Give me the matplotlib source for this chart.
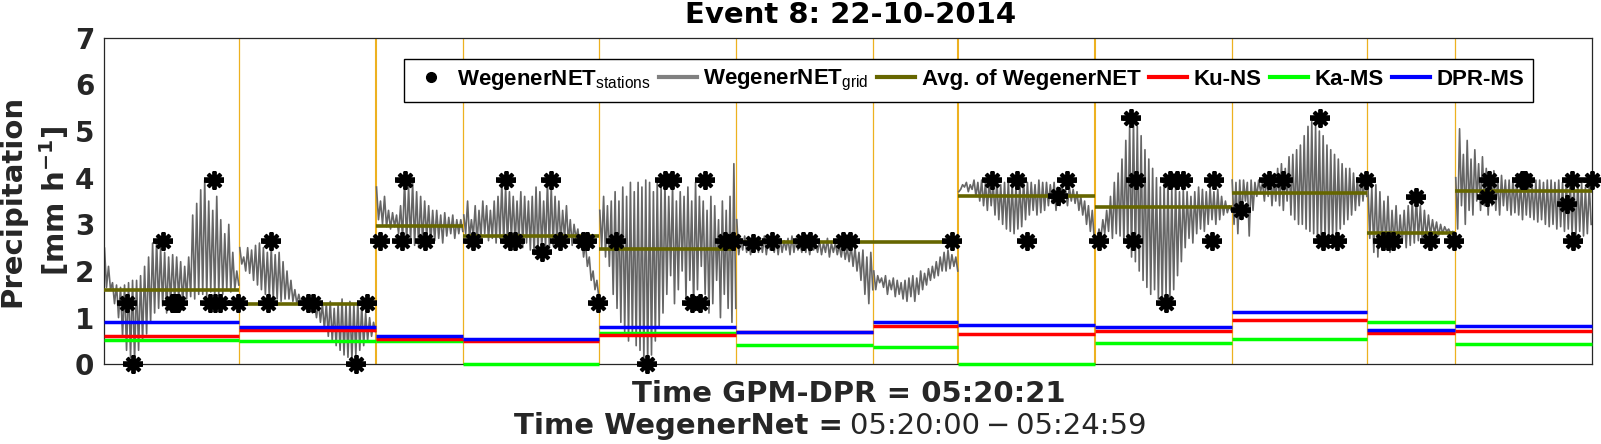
import matplotlib
matplotlib.use("Agg")
import matplotlib.pyplot as plt
from matplotlib.lines import Line2D
import numpy as np

# footprint edges along the (unlabelled) x axis
seg_edges = [0, 135.3, 272, 359.3, 495.3, 632.3, 769.3, 854.3, 990.7, 1127.7, 1263.3, 1351.3, 1487.7]

# per-footprint means [mm/h]
avg_wnet = [1.60, 1.30, 2.97, 2.74, 2.48, 2.63, 2.63, 3.61, 3.38, 3.68, 2.82, 3.72]
ku_ns = [0.61, 0.74, 0.55, 0.51, 0.63, 0.69, 0.83, 0.64, 0.72, 0.94, 0.67, 0.72]
ka_ms = [0.53, 0.49, 0.49, 0.00, 0.68, 0.41, 0.37, 0.00, 0.46, 0.55, 0.91, 0.44]
dpr_ms = [0.91, 0.79, 0.61, 0.55, 0.81, 0.70, 0.91, 0.85, 0.80, 1.13, 0.74, 0.83]

# WegenerNET grid values, peaks / troughs per footprint
grid_s1_hi = [2.49, 2.1, 1.75, 1.7, 1.65, 1.7, 1.75, 1.8, 1.8, 1.9, 2.1, 2.3, 2.6, 2.67, 2.5, 2.4, 2.3,
              2.35, 2.3, 2.2, 2.1, 2.3, 3.2, 3.45, 3.74, 3.95, 3.5, 3.3, 3.6, 3.1, 2.8, 3.0, 2.4, 2.0]
grid_s1_lo = [1.65, 1.6, 1.3, 1.0, 0.6, 0.3, 0.15, 0.08, 0.3, 0.5, 0.65, 0.9, 1.1, 1.2, 1.25, 1.1, 1.3,
              1.35, 1.4, 1.3, 1.4, 1.45, 1.4, 1.5, 1.5, 1.45, 1.55, 1.4, 1.5, 1.5, 1.6, 1.55, 1.6, 1.7]
grid_s2_hi = [2.5, 2.3, 2.5, 2.45, 2.55, 2.6, 2.5, 2.4, 2.5, 2.35, 2.4, 2.2, 2.0, 1.8, 1.6, 1.5, 1.45, 1.35,
              1.4, 1.3, 1.35, 1.3, 1.3, 1.35, 1.2, 1.3, 1.4, 1.3, 1.35, 1.3, 1.35, 1.25, 1.1, 1.0, 0.9]
grid_s2_lo = [2.15, 2.0, 1.95, 1.8, 1.7, 1.6, 1.5, 1.45, 1.4, 1.4, 1.35, 1.4, 1.4, 1.35, 1.3, 1.3, 1.2, 1.15,
              1.1, 1.0, 0.9, 0.75, 0.6, 0.5, 0.4, 0.3, 0.2, 0.15, 0.1, 0.2, 0.3, 0.4, 0.5, 0.6, 0.7]
grid_s3_hi = [3.8, 3.5, 3.6, 3.3, 3.25, 3.2, 3.4, 3.95, 3.8, 3.9, 3.7, 3.6, 3.5, 3.4, 3.3, 3.3, 3.2, 3.25,
              3.15, 3.2, 3.1, 3.1]
grid_s3_lo = [3.1, 3.0, 2.95, 2.9, 2.95, 2.8, 2.7, 2.6, 2.65, 2.55, 2.5, 2.6, 2.7, 2.6, 2.65, 2.7, 2.6, 2.75,
              2.8, 2.7, 2.8, 2.85]
grid_s4_hi = [3.2, 3.5, 3.1, 3.4, 3.3, 3.5, 3.4, 3.3, 3.5, 3.6, 3.9, 3.8, 3.7, 3.6, 3.5, 3.7, 3.6, 3.5,
              3.6, 3.8, 3.7, 3.5, 3.9, 3.8, 3.6, 3.5, 3.3, 3.4, 3.1, 3.0, 2.9, 2.8, 2.6, 2.3, 2.0, 1.8]
grid_s4_lo = [2.8, 2.7, 2.75, 2.6, 2.7, 2.8, 2.65, 2.7, 2.6, 2.7, 2.6, 2.55, 2.7, 2.6, 2.65, 2.5, 2.6, 2.45,
              2.35, 2.4, 2.45, 2.5, 2.5, 2.55, 2.6, 2.6, 2.7, 2.6, 2.55, 2.7, 2.5, 2.3, 2.1, 1.8, 1.6, 1.45]
grid_s5_hi = [3.3, 3.6, 3.4, 3.5, 3.7, 3.5, 3.8, 3.6, 3.9, 3.7, 3.9, 3.8, 3.95, 3.9, 3.7, 3.95, 3.8, 3.9,
              3.6, 3.85, 3.5, 3.7, 3.6, 3.8, 3.5, 3.9, 3.6, 3.5, 3.3, 3.6, 3.4, 3.1, 3.5, 3.3, 3.6, 4.3]
grid_s5_lo = [2.5, 2.3, 2.1, 1.5, 1.2, 0.9, 0.7, 0.5, 0.6, 0.4, 0.3, 0.1, 0.0, 0.2, 0.5, 0.8, 1.1, 1.5,
              1.9, 1.3, 1.6, 2.0, 1.4, 1.8, 1.2, 1.6, 2.1, 1.5, 1.1, 1.3, 1.8, 1.0, 1.5, 1.2, 0.9, 1.2]
grid_s6_hi = [3.1, 2.7, 2.75, 2.7, 2.65, 2.7, 2.7, 2.75, 2.7, 2.6, 2.7, 2.7, 2.65, 2.7, 2.75, 2.7, 2.6, 2.7,
              2.65, 2.7, 2.6, 2.65, 2.6, 2.7, 2.6, 2.6, 2.55, 2.6, 2.5, 2.55, 2.5, 2.4, 2.45, 2.3, 2.4]
grid_s6_lo = [2.35, 2.45, 2.4, 2.35, 2.45, 2.4, 2.4, 2.35, 2.45, 2.4, 2.35, 2.4, 2.45, 2.35, 2.4, 2.45, 2.4,
              2.4, 2.35, 2.45, 2.4, 2.35, 2.4, 2.3, 2.4, 2.35, 2.3, 2.25, 2.2, 2.1, 2.0, 1.8, 1.5, 1.3, 1.6]
grid_s7_hi = [2.0, 1.9, 1.85, 1.9, 1.8, 1.85, 1.8, 1.75, 1.8, 1.85, 1.9, 1.85, 2.0, 1.95, 2.05, 2.1, 2.2,
              2.3, 2.4, 2.45, 2.35, 2.3]
grid_s7_lo = [1.6, 1.75, 1.65, 1.5, 1.6, 1.45, 1.5, 1.4, 1.35, 1.45, 1.35, 1.5, 1.6, 1.7, 1.8, 1.85, 1.9,
              2.0, 2.0, 2.05, 2.1, 2.0]
grid_s8_hi = [3.7, 3.85, 3.9, 3.85, 3.95, 3.9, 3.95, 3.9, 3.95, 3.9, 3.95, 3.85, 3.9, 3.95, 3.9, 3.85, 3.9,
              3.95, 3.9, 3.9, 3.85, 3.95, 3.9, 3.9, 3.85, 3.9, 3.8, 3.85, 3.75, 3.8, 3.75, 3.7, 3.6, 3.5,
              3.4, 3.3]
grid_s8_lo = [3.75, 3.8, 3.7, 3.75, 3.6, 3.5, 3.4, 3.3, 3.4, 3.2, 3.1, 3.0, 2.9, 2.85, 2.8, 2.9, 2.95, 3.1,
              3.2, 3.3, 3.2, 3.25, 3.3, 3.4, 3.45, 3.3, 3.4, 3.5, 3.4, 3.5, 3.45, 3.3, 3.2, 3.0, 2.85, 2.7]
grid_s9_hi = [2.7, 2.9, 3.1, 3.3, 3.6, 3.9, 4.1, 4.4, 4.8, 5.1, 5.25, 5.1, 4.9, 4.6, 4.4, 4.2, 4.0, 3.8,
              3.9, 4.0, 3.8, 3.9, 3.7, 3.75, 3.7, 3.6, 3.7, 3.8, 3.75, 3.7, 3.8, 3.7, 3.75, 3.6, 3.5, 3.4]
grid_s9_lo = [2.6, 2.7, 2.8, 2.85, 2.7, 2.8, 2.75, 2.6, 2.5, 2.3, 2.2, 2.0, 1.8, 1.65, 1.5, 1.6, 1.4, 1.3,
              1.5, 1.35, 1.6, 1.9, 2.2, 2.5, 2.7, 2.6, 2.8, 2.9, 2.85, 3.0, 3.1, 3.0, 3.1, 3.2, 3.25, 3.3]
grid_s10_hi = [3.95, 3.9, 3.95, 3.95, 3.9, 3.95, 3.9, 3.95, 3.9, 4.0, 4.1, 4.0, 4.2, 4.3, 4.2, 4.45, 4.5,
               4.6, 4.7, 4.9, 5.1, 5.2, 5.1, 5.0, 4.9, 4.7, 4.6, 4.5, 4.4, 4.3, 4.2, 4.2, 4.1, 4.0, 4.1, 4.0]
grid_s10_lo = [3.0, 2.8, 3.1, 3.5, 2.75, 3.3, 3.6, 3.7, 3.5, 3.6, 3.4, 3.5, 3.4, 3.3, 3.5, 3.2, 3.1, 3.0,
               3.0, 2.9, 2.85, 2.8, 2.7, 2.6, 2.65, 2.6, 2.7, 2.8, 2.9, 3.0, 3.1, 3.2, 3.3, 3.4, 3.5, 3.6]
grid_s11_hi = [3.95, 3.8, 3.85, 3.7, 3.5, 3.6, 3.3, 3.4, 3.2, 3.3, 3.4, 3.5, 3.6, 3.4, 3.3, 3.2, 3.1, 3.05,
               3.0, 2.95, 2.9, 2.85]
grid_s11_lo = [2.7, 2.4, 2.3, 2.45, 2.5, 2.4, 2.55, 2.5, 2.6, 2.5, 2.55, 2.6, 2.65, 2.6, 2.7, 2.75, 2.8,
               2.75, 2.8, 2.85, 2.8, 2.8]
grid_s12_hi = [4.0, 5.05, 4.5, 4.8, 4.4, 4.6, 4.3, 4.45, 4.2, 4.1, 4.15, 4.0, 4.05, 3.95, 3.95, 4.0, 3.95,
               3.9, 3.95, 3.95, 3.9, 3.95, 3.95, 3.9, 3.95, 3.95, 3.9, 3.95, 3.9, 3.95, 3.95, 3.85, 3.95,
               3.9, 3.8, 3.85]
grid_s12_lo = [2.9, 3.4, 3.0, 3.3, 3.2, 3.5, 3.3, 3.4, 3.2, 3.4, 3.3, 3.2, 3.4, 3.3, 3.2, 3.25, 3.2, 3.1,
               3.2, 3.15, 3.1, 3.05, 3.1, 3.0, 2.95, 3.0, 2.9, 2.95, 2.85, 2.9, 2.8, 2.75, 2.85, 2.75, 2.8, 3.0]

# station positions and values
stn_x = [22.7, 29.3, 58.7, 67.7, 71.0, 74.3, 106.0, 111.0, 116.0, 110.3, 134.3,
         164.3, 166.7, 204.3, 209.3, 252.0, 262.7,
         276.0, 297.7, 301.0, 321.0,
         368.7, 402.0, 406.0, 411.0, 437.7, 446.7, 456.0, 479.3, 482.7, 493.7,
         512.0, 543.3, 561.0, 567.7, 601.0, 587.7, 596.0, 621.0, 629.0,
         649.3, 668.3, 699.3, 706.0, 739.3, 746.0,
         847.7,
         887.7, 912.7, 922.7, 954.3, 963.3,
         995.3, 1027.0, 1028.7, 1031.7, 1062.0, 1066.0, 1072.7, 1079.3, 1107.7, 1110.0,
         1137.3, 1165.3, 1179.3, 1216.0, 1219.3, 1232.7, 1262.0,
         1279.3, 1284.3, 1289.3, 1311.7, 1326.0, 1350.3,
         1385.3, 1383.3, 1417.7, 1421.0, 1467.7, 1463.3, 1469.3, 1487.7]
stn_v = [1.32, 0, 2.64, 1.32, 1.32, 1.32, 1.32, 1.32, 1.32, 3.96, 1.32,
         1.32, 2.64, 1.32, 1.32, 0, 1.32,
         2.64, 2.64, 3.96, 2.64,
         2.64, 3.96, 2.64, 2.64, 2.4, 3.96, 2.64, 2.64, 2.64, 1.32,
         2.64, 0, 3.96, 3.96, 3.96, 1.32, 1.32, 2.64, 2.64,
         2.6, 2.64, 2.64, 2.64, 2.64, 2.64,
         2.64,
         3.96, 3.96, 2.64, 3.6, 3.96,
         2.64, 5.28, 2.64, 3.96, 1.32, 3.96, 3.96, 3.96, 2.64, 3.96,
         3.3, 3.96, 3.96, 5.28, 2.64, 2.64, 3.96,
         2.64, 2.64, 2.64, 3.59, 2.64, 2.64,
         3.96, 3.59, 3.96, 3.96, 3.96, 3.43, 2.64, 3.96]

grid_hi = [grid_s1_hi, grid_s2_hi, grid_s3_hi, grid_s4_hi, grid_s5_hi, grid_s6_hi,
           grid_s7_hi, grid_s8_hi, grid_s9_hi, grid_s10_hi, grid_s11_hi, grid_s12_hi]
grid_lo = [grid_s1_lo, grid_s2_lo, grid_s3_lo, grid_s4_lo, grid_s5_lo, grid_s6_lo,
           grid_s7_lo, grid_s8_lo, grid_s9_lo, grid_s10_lo, grid_s11_lo, grid_s12_lo]

plt.rcParams["font.family"] = "DejaVu Sans"
plt.rcParams["mathtext.fontset"] = "custom"
plt.rcParams["mathtext.rm"] = "Liberation Sans"
plt.rcParams["mathtext.it"] = "Liberation Sans:italic"
plt.rcParams["mathtext.bf"] = "Liberation Sans:bold"

ORANGE = "#EDB120"
GREY = "#666666"
OLIVE = "#666600"
TXT = "#262626"

W, H = 1601, 444
fig = plt.figure(figsize=(W / 100, H / 100), dpi=100)
ax = fig.add_axes([0.06496, 0.1795, 0.9292, 0.7354])

# footprint borders
thick = {2, 7, 8}
for i, e in enumerate(seg_edges[1:-1], start=1):
    ax.axvline(e, color=ORANGE, lw=1.5 if i in thick else 0.9, zorder=1)

for k in range(len(avg_wnet)):
    x0, x1 = seg_edges[k], seg_edges[k + 1]
    hi, lo = grid_hi[k], grid_lo[k]
    ys = np.ravel(np.column_stack([hi, lo]))
    xs = np.linspace(x0 + 0.5, x1 - 0.5, len(ys))
    ax.plot(xs, ys, color=GREY, lw=1.2, zorder=2)
    ax.plot([x0, x1], [avg_wnet[k]] * 2, color=OLIVE, lw=2.6, solid_capstyle="butt", zorder=3)
    ax.plot([x0, x1], [ka_ms[k]] * 2, color="#00FF00", lw=2.5, solid_capstyle="butt", zorder=3, clip_on=False)
    ax.plot([x0, x1], [ku_ns[k]] * 2, color="#FF0000", lw=2.5, solid_capstyle="butt", zorder=4, clip_on=False)
    ax.plot([x0, x1], [dpr_ms[k]] * 2, color="#0000FF", lw=2.5, solid_capstyle="butt", zorder=5, clip_on=False)

# stations (asterisk-like blobs)
ax.plot(stn_x, stn_v, ls="none", marker=(8, 2, 0), ms=13, mew=2.8, color="black", zorder=6, clip_on=False)
ax.plot(stn_x, stn_v, ls="none", marker="_", ms=15, mew=4, color="black", zorder=6, clip_on=False)
ax.plot(stn_x, stn_v, ls="none", marker="o", ms=7, color="black", zorder=6, clip_on=False)

ax.set_xlim(seg_edges[0], seg_edges[-1])
ax.set_ylim(0, 7)
ax.set_xticks([])
ax.set_yticks(range(8))
ax.tick_params(axis="y", length=0, pad=7, labelsize=20)
for t in ax.get_yticklabels():
    t.set_fontweight("bold")
    t.set_color(TXT)
for s in ax.spines.values():
    s.set_color(TXT)
    s.set_linewidth(0.9)

handles = [
    Line2D([], [], ls="none", marker="o", ms=7, color="black"),
    Line2D([], [], color="#808080", lw=3),
    Line2D([], [], color=OLIVE, lw=3),
    Line2D([], [], color="#FF0000", lw=3),
    Line2D([], [], color="#00FF00", lw=3),
    Line2D([], [], color="#0000FF", lw=3),
]
labels = [r"WegenerNET$_{\mathrm{stations}}$", r"WegenerNET$_{\mathrm{grid}}$", "Avg. of WegenerNET",
          "Ku-NS", "Ka-MS", "DPR-MS"]
leg = ax.legend(handles, labels, loc="upper left", bbox_to_anchor=(0.2015, 0.934), ncol=6,
                prop={"family": "Liberation Sans", "weight": "bold", "size": 16},
                frameon=True, fancybox=False, edgecolor="black", framealpha=1,
                handlelength=1.7, handletextpad=0.3, columnspacing=0.38,
                borderpad=0.38, borderaxespad=0)
leg.get_frame().set_linewidth(1.0)
leg.set_zorder(10)

fig.text(35 / W, 0.5 * (0.1795 + 0.9149), "Precipitation\n" + r"[mm h$^{\mathbf{-1}}$]",
         rotation=90, ha="center", va="center", ma="center", fontsize=21, fontweight="bold",
         color=TXT, math_fontfamily="dejavusans", linespacing=1.38)

fig.text(851 / W, (H - 22.7) / H, "Event 8: 22-10-2014", ha="center", va="baseline",
         fontsize=21, fontweight="bold", color="black")
fig.text(849 / W, (H - 401.7) / H, "Time GPM-DPR = 05:20:21", ha="center", va="baseline",
         fontsize=21, fontweight="bold", color=TXT)

# second line: bold label, regular time span
r = fig.canvas.get_renderer()
t_a = fig.text(0, (H - 434) / H, "Time WegenerNet =", ha="left", va="baseline",
               fontsize=21, fontweight="bold", color=TXT)
t_b = fig.text(0, (H - 434) / H, "05:20:00\u2009\u2212\u200905:24:59", ha="left", va="baseline",
               fontsize=21, color=TXT)
wa = t_a.get_window_extent(r).width
wb = t_b.get_window_extent(r).width
gap = 7
x_left = 830 - (wa + gap + wb) / 2
t_a.set_x(x_left / W)
t_b.set_x((x_left + wa + gap) / W)

fig.savefig("out.png", dpi=100)
